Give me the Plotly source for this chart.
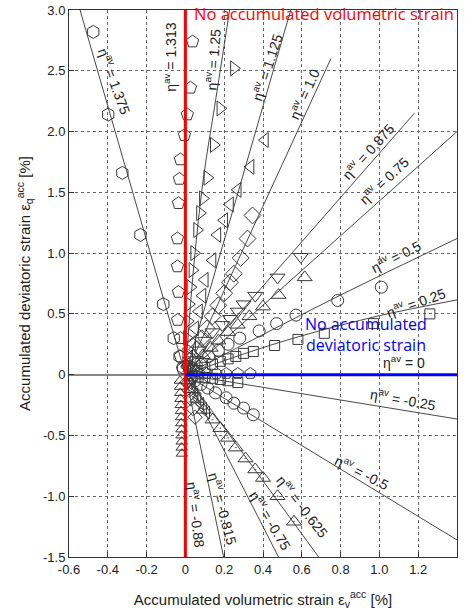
import plotly.graph_objects as go

# ---------------- data ----------------
x_ticks = [-0.6, -0.4, -0.2, 0, 0.2, 0.4, 0.6, 0.8, 1.0, 1.2, 1.4]
x_tick_text = ["-0.6", "-0.4", "-0.2", "0", "0.2", "0.4", "0.6", "0.8", "1.0", "1.2", "1.4"]
y_ticks = [-1.5, -1.0, -0.5, 0, 0.5, 1.0, 1.5, 2.0, 2.5, 3.0]
y_tick_text = ["-1.5", "-1.0", "-0.5", "0", "0.5", "1.0", "1.5", "2.0", "2.5", "3.0"]

eta_values = ["1.375", "1.313", "1.25", "1.125", "1.0", "0.875", "0.75", "0.5",
              "0.25", "0", "-0.25", "-0.5", "-0.625", "-0.75", "-0.815", "-0.88"]

# measured points per eta
pts_1375_x = [-0.475, -0.398, -0.325, -0.232, -0.114, -0.06, -0.03, -0.012]
pts_1375_y = [2.82, 2.14, 1.66, 1.15, 0.58, 0.30, 0.15, 0.06]
pts_1313_x = [0.037, 0.026, 0.01, -0.005, -0.026, -0.031, -0.036, -0.041, -0.041, -0.036, -0.04, -0.026, -0.026, -0.015]
pts_1313_y = [2.74, 2.36, 2.14, 1.97, 1.77, 1.61, 1.41, 1.12, 0.89, 0.68, 0.45, 0.30, 0.15, 0.05]
pts_125_x = [0.25, 0.18, 0.146, 0.113, 0.09, 0.075, 0.06, 0.045, 0.036, 0.026, 0.018, 0.012, 0.008, 0.004]
pts_125_y = [2.52, 2.19, 1.89, 1.62, 1.45, 1.33, 1.19, 1.0, 0.86, 0.72, 0.58, 0.44, 0.30, 0.16]
pts_1125_x = [0.41, 0.336, 0.27, 0.23, 0.2, 0.165, 0.14, 0.10, 0.088, 0.07, 0.05, 0.035, 0.02, 0.01]
pts_1125_y = [1.93, 1.71, 1.52, 1.40, 1.27, 1.15, 0.94, 0.78, 0.65, 0.52, 0.38, 0.26, 0.14, 0.06]
pts_10_x = [0.346, 0.32, 0.285, 0.25, 0.23, 0.2, 0.17, 0.14, 0.11, 0.085, 0.06, 0.04, 0.02]
pts_10_y = [1.31, 1.12, 0.96, 0.83, 0.76, 0.67, 0.57, 0.48, 0.38, 0.30, 0.21, 0.14, 0.07]
pts_0875_x = [0.595, 0.475, 0.36, 0.30, 0.27, 0.23, 0.19, 0.14, 0.10, 0.07, 0.04, 0.02]
pts_0875_y = [0.97, 0.80, 0.65, 0.58, 0.52, 0.46, 0.41, 0.35, 0.28, 0.20, 0.12, 0.06]
pts_075_x = [0.615, 0.48, 0.40, 0.33, 0.27, 0.22, 0.17, 0.13, 0.09, 0.055, 0.025]
pts_075_y = [0.80, 0.655, 0.56, 0.48, 0.41, 0.35, 0.28, 0.22, 0.16, 0.10, 0.05]
pts_05_x = [1.01, 0.785, 0.57, 0.47, 0.38, 0.28, 0.22, 0.17, 0.12, 0.08, 0.04]
pts_05_y = [0.72, 0.61, 0.49, 0.42, 0.36, 0.30, 0.25, 0.20, 0.15, 0.10, 0.05]
pts_025_x = [1.26, 0.97, 0.716, 0.58, 0.46, 0.35, 0.30, 0.26, 0.22, 0.18, 0.14, 0.10, 0.06]
pts_025_y = [0.50, 0.42, 0.34, 0.29, 0.24, 0.19, 0.175, 0.15, 0.13, 0.11, 0.085, 0.06, 0.035]
pts_0_x = [0.03, 0.07, 0.11, 0.16, 0.21, 0.27, 0.335]
pts_0_y = [0.01, 0.01, 0.01, 0.01, 0.01, 0.01, 0.01]
pts_m025_x = [0.27, 0.22, 0.18, 0.14, 0.10, 0.065, 0.035]
pts_m025_y = [-0.065, -0.05, -0.04, -0.03, -0.025, -0.02, -0.01]
pts_m05_x = [0.35, 0.30, 0.25, 0.21, 0.155, 0.115, 0.08, 0.05, 0.025]
pts_m05_y = [-0.33, -0.275, -0.235, -0.19, -0.15, -0.11, -0.08, -0.05, -0.025]
pts_m0625_x = [0.56, 0.475, 0.40, 0.36, 0.31, 0.26, 0.22, 0.18, 0.14, 0.094, 0.06, 0.035, 0.015]
pts_m0625_y = [-1.21, -1.0, -0.85, -0.78, -0.69, -0.60, -0.52, -0.44, -0.37, -0.29, -0.20, -0.12, -0.05]
pts_m075_x = [0.02, 0.035, 0.05, 0.065, 0.08, 0.095, 0.11]
pts_m075_y = [-0.07, -0.11, -0.16, -0.20, -0.24, -0.28, -0.31]
pts_m0815_x = [0.05, 0.04, 0.03, 0.02, 0.01]
pts_m0815_y = [-0.35, -0.28, -0.20, -0.13, -0.06]
pts_m088_x = [-0.028, -0.027, -0.026, -0.025, -0.024, -0.023, -0.022, -0.021, -0.02, -0.02, -0.019, -0.019, -0.018]
pts_m088_y = [-0.05, -0.1, -0.15, -0.2, -0.25, -0.3, -0.35, -0.4, -0.45, -0.5, -0.55, -0.6, -0.65]

# fitted trend lines per eta (polyline points)
fit_1375_x = [0, -0.543]
fit_1375_y = [0, 3.0]
fit_125_x = [0, 0.043, 0.094, 0.15, 0.228]
fit_125_y = [0, 0.89, 1.63, 2.2, 3.0]
fit_1125_x = [0, 0.543]
fit_1125_y = [0, 3.0]
fit_10_x = [0, 0.75]
fit_10_y = [0, 2.6]
fit_0875_x = [0, 1.18]
fit_0875_y = [0, 2.15]
fit_075_x = [0, 1.4]
fit_075_y = [0, 2.0]
fit_05_x = [0, 0.4, 0.8, 1.4]
fit_05_y = [0, 0.33, 0.655, 1.12]
fit_025_x = [0, 0.3, 0.6, 1.0, 1.4]
fit_025_y = [0, 0.17, 0.32, 0.485, 0.615]
fit_0_x = [0, 1.4]
fit_0_y = [0, 0]
fit_m025_x = [0, 1.4]
fit_m025_y = [0, -0.365]
fit_m05_x = [0, 1.4]
fit_m05_y = [0, -1.36]
fit_m0625_x = [0, 0.687]
fit_m0625_y = [0, -1.5]
fit_m075_x = [0, 0.48]
fit_m075_y = [0, -1.5]
fit_m0815_x = [0, 0.197]
fit_m0815_y = [0, -1.5]

# label anchor positions (data units) and rotation
label_x = [-0.362, -0.078, 0.14, 0.419, 0.61, 0.94, 1.023, 1.085, 1.19, 1.127, 1.12, 0.91, 0.605, 0.44, 0.196, 0.057]
label_y = [2.42, 2.61, 2.59, 2.53, 2.31, 1.84, 1.60, 0.975, 0.60, 0.105, -0.2, -0.80, -1.08, -1.195, -1.105, -1.155]
label_angle = [70, -90, -86, -72, -66, -48, -43, -27, -19.5, 0, 10, 27, 52, 59, 75, 83]

# ---------------- figure ----------------
series = [
    (pts_1375_x, pts_1375_y, "hexagon-open", 13),
    (pts_1313_x, pts_1313_y, "pentagon-open", 13),
    (pts_125_x, pts_125_y, "triangle-right-open", 13),
    (pts_1125_x, pts_1125_y, "triangle-left-open", 13),
    (pts_10_x, pts_10_y, "diamond-open", 13),
    (pts_0875_x, pts_0875_y, "triangle-down-open", 13),
    (pts_075_x, pts_075_y, "triangle-up-open", 13),
    (pts_05_x, pts_05_y, "circle-open", 12),
    (pts_025_x, pts_025_y, "square-open", 10),
    (pts_0_x, pts_0_y, "pentagon-open", 12),
    (pts_m025_x, pts_m025_y, "square-open", 10),
    (pts_m05_x, pts_m05_y, "circle-open", 12),
    (pts_m0625_x, pts_m0625_y, "triangle-up-open-dot", 13),
    (pts_m075_x, pts_m075_y, "triangle-left-open", 11),
    (pts_m0815_x, pts_m0815_y, "diamond-open", 11),
    (pts_m088_x, pts_m088_y, "triangle-up-open", 10),
]
fits = [
    (fit_1375_x, fit_1375_y), (fit_125_x, fit_125_y), (fit_1125_x, fit_1125_y),
    (fit_10_x, fit_10_y), (fit_0875_x, fit_0875_y), (fit_075_x, fit_075_y),
    (fit_05_x, fit_05_y), (fit_025_x, fit_025_y), (fit_0_x, fit_0_y),
    (fit_m025_x, fit_m025_y), (fit_m05_x, fit_m05_y), (fit_m0625_x, fit_m0625_y),
    (fit_m075_x, fit_m075_y), (fit_m0815_x, fit_m0815_y),
]

fig = go.Figure()
for fx, fy in fits:
    fig.add_trace(go.Scatter(x=fx, y=fy, mode="lines", line=dict(color="#333", width=0.9),
                             line_shape="spline", showlegend=False, hoverinfo="skip"))
for sx, sy, sym, sz in series:
    fig.add_trace(go.Scatter(x=sx, y=sy, mode="markers", showlegend=False,
                             marker=dict(symbol=sym, size=sz, color="#3a3a3a",
                                         line=dict(color="#3a3a3a", width=1))))

# reference lines: no accumulated volumetric / deviatoric strain
fig.add_trace(go.Scatter(x=[0, 0], y=[-1.5, 3.0], mode="lines",
                         line=dict(color="#ff0000", width=3), showlegend=False))
fig.add_trace(go.Scatter(x=[0, 1.4], y=[0, 0], mode="lines",
                         line=dict(color="#0000ff", width=3), showlegend=False))

for lab, lx, ly, ang in zip(eta_values, label_x, label_y, label_angle):
    fig.add_annotation(x=lx, y=ly, text="η<sup>av</sup> = " + lab, showarrow=False,
                       textangle=ang, font=dict(family="Liberation Sans", size=14, color="#222"),
                       xanchor="center", yanchor="middle")

fig.add_annotation(x=0.035, xref="x", y=0.9945, yref="paper",
                   text="No accumulated volumetric strain", showarrow=False,
                   xanchor="left", yanchor="middle",
                   font=dict(family="Open Sans", size=16.5, color="#ff0000"))
fig.add_annotation(x=0.93, y=0.33, text="No accumulated<br>deviatoric strain", showarrow=False,
                   xanchor="center", yanchor="middle", align="center",
                   font=dict(family="Open Sans", size=16, color="#0000ff"))

axis_common = dict(showgrid=True, gridcolor="#666", griddash="dot", gridwidth=1,
                   showline=True, linecolor="#333", linewidth=1, mirror=True,
                   ticks="inside", ticklen=5, tickcolor="#333", automargin=False,
                   tickfont=dict(family="Liberation Sans", size=13, color="#222"),
                   zeroline=True, zerolinecolor="#888", zerolinewidth=1.5)

fig.update_layout(
    width=465, height=614,
    margin=dict(l=69, r=8, t=10, b=57),
    paper_bgcolor="white", plot_bgcolor="white",
    xaxis=dict(range=[-0.6, 1.4], tickvals=x_ticks, ticktext=x_tick_text,
               title=dict(text="Accumulated volumetric strain ε<sub>v</sub><sup>acc</sup> [%]",
                          font=dict(family="Liberation Sans", size=15, color="#222"), standoff=18),
               **axis_common),
    yaxis=dict(range=[-1.5, 3.0], tickvals=y_ticks, ticktext=y_tick_text,
               title=dict(text="Accumulated deviatoric strain ε<sub>q</sub><sup>acc</sup> [%]",
                          font=dict(family="Liberation Sans", size=15, color="#222"), standoff=8),
               **axis_common),
)

fig.write_html("out.html", config={"displayModeBar": False},
               post_script="document.body.style.margin='0';")
